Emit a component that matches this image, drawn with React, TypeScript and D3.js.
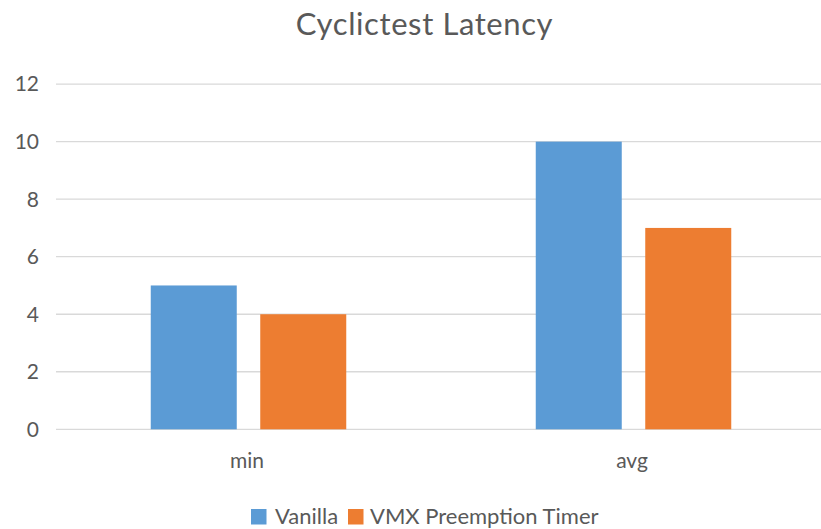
import React from "react";
import * as d3 from "d3";

const categories = ["min", "avg"];
const seriesNames = ["Vanilla", "VMX Preemption Timer"];
const vanilla = [5, 10];
const vmx = [4, 7];
const yTicks = [0, 2, 4, 6, 8, 10, 12];
const colors = ["#5B9BD5", "#ED7D31"];

const W = 821;
const H = 529;
const FONT = "Lato, 'Open Sans', sans-serif";
const TEXT = "#595959";

export default function App() {
  const values = [vanilla, vmx];
  const x0 = d3
    .scaleBand<string>()
    .domain(categories)
    .range([56, 826])
    .paddingInner(0.4922)
    .paddingOuter(0.2461);
  const x1 = d3
    .scaleBand<string>()
    .domain(seriesNames)
    .range([0, x0.bandwidth()])
    .paddingInner(0.2146);
  const y = d3.scaleLinear().domain([0, 12]).range([429.3, 84.1]);

  return (
    <svg
      width={W}
      height={H}
      style={{ position: "absolute", left: 0, top: 0, background: "#fff" }}
      fontFamily={FONT}
    >
      <rect x={0} y={0} width={W} height={H} fill="#fff" />
      <text x={424.5} y={35} textAnchor="middle" fontSize={31} letterSpacing={0.6} fill={TEXT}>
        Cyclictest Latency
      </text>
      {yTicks.map((t) => (
        <g key={t}>
          <line x1={56} x2={W} y1={y(t)} y2={y(t)} stroke="#D9D9D9" strokeWidth={1.3} />
          <text
            x={39}
            y={y(t)}
            dy="0.35em"
            textAnchor="end"
            fontSize={21}
            fill={TEXT}
          >
            {t}
          </text>
        </g>
      ))}
      {categories.map((c, ci) => (
        <g key={c}>
          {seriesNames.map((s, si) => (
            <rect
              key={s}
              x={(x0(c) ?? 0) + (x1(s) ?? 0)}
              y={y(values[si][ci])}
              width={x1.bandwidth()}
              height={y(0) - y(values[si][ci])}
              fill={colors[si]}
            />
          ))}
          <text
            x={(x0(c) ?? 0) + x0.bandwidth() / 2 - 1.5}
            y={468}
            textAnchor="middle"
            fontSize={21}
            fill={TEXT}
          >
            {c}
          </text>
        </g>
      ))}
      <g>
        <rect x={251} y={509} width={15.5} height={15.5} fill={colors[0]} />
        <text x={275} y={524} fontSize={22} fill={TEXT}>
          {seriesNames[0]}
        </text>
        <rect x={348} y={509} width={15.5} height={15.5} fill={colors[1]} />
        <text x={370} y={524} fontSize={22} fill={TEXT}>
          {seriesNames[1]}
        </text>
      </g>
    </svg>
  );
}
